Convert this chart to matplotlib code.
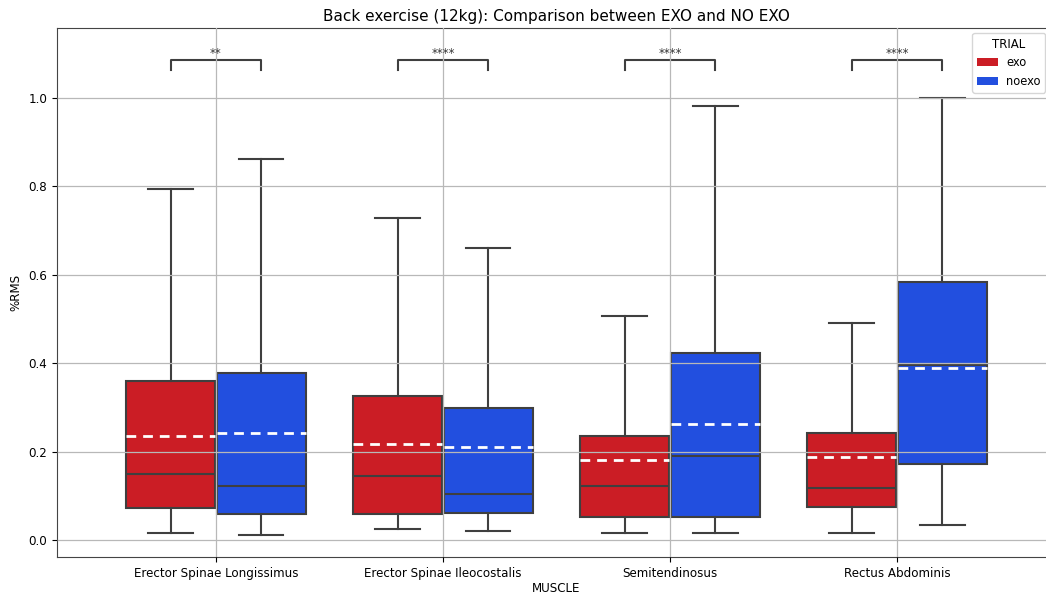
import matplotlib
matplotlib.use("Agg")
import matplotlib.pyplot as plt
from matplotlib.patches import Patch
import numpy as np

muscles = ["Erector Spinae Longissimus", "Erector Spinae Ileocostalis",
           "Semitendinosus", "Rectus Abdominis"]
trials = ["exo", "noexo"]
colors = {"exo": "#CB1D25", "noexo": "#224FDF"}

# Box statistics per muscle: [whislo, q1, median, mean, q3, whishi]
exo_stats = [
    [0.016, 0.072, 0.149, 0.235, 0.360, 0.794],
    [0.025, 0.059, 0.145, 0.217, 0.326, 0.728],
    [0.016, 0.052, 0.122, 0.181, 0.235, 0.507],
    [0.016, 0.075, 0.118, 0.188, 0.242, 0.491],
]
noexo_stats = [
    [0.011, 0.059, 0.122, 0.242, 0.378, 0.862],
    [0.020, 0.061, 0.104, 0.210, 0.299, 0.661],
    [0.016, 0.052, 0.190, 0.262, 0.423, 0.982],
    [0.035, 0.172, 0.395, 0.389, 0.584, 1.000],
]
significance = ["**", "****", "****", "****"]

plt.rcParams["font.size"] = 8.6

fig = plt.figure(figsize=(10.46, 5.94), dpi=100)
ax = fig.add_axes([0.0545, 0.0623, 0.955, 0.8906])

edge = "#3f3f3f"
box_w = 0.39
offsets = {"exo": -0.2, "noexo": 0.2}

for trial, stats in (("exo", exo_stats), ("noexo", noexo_stats)):
    bxp_stats = []
    for s in stats:
        lo, q1, med, mean, q3, hi = s
        bxp_stats.append(dict(whislo=lo, q1=q1, med=med, mean=mean,
                              q3=q3, whishi=hi, fliers=[]))
    pos = np.arange(len(muscles)) + offsets[trial]
    ax.bxp(bxp_stats, positions=pos, widths=box_w, patch_artist=True,
           showmeans=True, meanline=True, showfliers=False,
           boxprops=dict(facecolor=colors[trial], edgecolor=edge, linewidth=1.5),
           medianprops=dict(color=edge, linewidth=1.5),
           whiskerprops=dict(color=edge, linewidth=1.5),
           capprops=dict(color=edge, linewidth=1.5),
           meanprops=dict(color="white", linestyle=(0, (3.5, 2.5)), linewidth=2),
           capwidths=box_w / 2, manage_ticks=False)

# Significance brackets
y_br, h_br = 1.086, 0.023
for i, label in enumerate(significance):
    x1, x2 = i - 0.2, i + 0.2
    ax.plot([x1, x1, x2, x2], [y_br - h_br, y_br, y_br, y_br - h_br],
            color=edge, linewidth=1.5)
    ax.text(i, y_br, label, ha="center", va="bottom", fontsize=8.5, color="#333333")

ax.set_xticks(np.arange(len(muscles)))
ax.set_xticklabels(muscles)
ax.set_xlim(-0.70, 3.70)
ax.set_ylim(-0.038, 1.158)
ax.set_yticks([0.0, 0.2, 0.4, 0.6, 0.8, 1.0])
ax.grid(True, color="#b8b8b8", linewidth=0.9)
ax.set_axisbelow(False)
for sp in ax.spines.values():
    sp.set_color("#444444")

ax.set_xlabel("MUSCLE", labelpad=1.5)
ax.set_ylabel("%RMS")
ax.set_title("Back exercise (12kg): Comparison between EXO and NO EXO", fontsize=11, pad=5)

handles = [Patch(facecolor=colors[t], edgecolor=edge, linewidth=0, label=t) for t in trials]
ax.legend(handles=handles, title="TRIAL", loc="upper right",
          bbox_to_anchor=(1045 / 1046, 1 - 33 / 594), bbox_transform=fig.transFigure,
          borderaxespad=0, fontsize=8.3, title_fontsize=8.5,
          handlelength=1.8, handletextpad=0.7)

fig.savefig("out.png", dpi=100)
